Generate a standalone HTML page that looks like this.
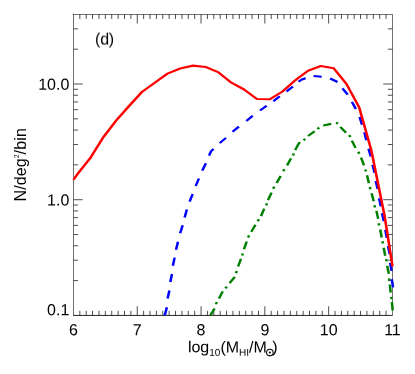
<!DOCTYPE html>
<html><head><meta charset="utf-8"><title>plot</title>
<style>
html,body{margin:0;padding:0;background:#fff;}
body{width:415px;height:374px;overflow:hidden;}
svg{display:block;}
text{font-family:"Liberation Sans",sans-serif;fill:#000;}
</style></head><body>
<svg width="415" height="374" viewBox="0 0 415 374">
<rect x="0" y="0" width="415" height="374" fill="#fff"/>
<defs><filter id="gs" x="0" y="0" width="415" height="374" filterUnits="userSpaceOnUse" color-interpolation-filters="sRGB"><feColorMatrix type="saturate" values="0"/></filter><clipPath id="cp"><rect x="70.45" y="11.38" width="325.0" height="307.02"/></clipPath></defs>
<path d="M79.83 315.40L79.83 310.80 M79.83 14.38L79.83 18.98 M86.21 315.40L86.21 310.80 M86.21 14.38L86.21 18.98 M92.59 315.40L92.59 310.80 M92.59 14.38L92.59 18.98 M98.97 315.40L98.97 310.80 M98.97 14.38L98.97 18.98 M105.35 315.40L105.35 310.80 M105.35 14.38L105.35 18.98 M111.73 315.40L111.73 310.80 M111.73 14.38L111.73 18.98 M118.11 315.40L118.11 310.80 M118.11 14.38L118.11 18.98 M124.49 315.40L124.49 310.80 M124.49 14.38L124.49 18.98 M130.87 315.40L130.87 310.80 M130.87 14.38L130.87 18.98 M137.25 315.40L137.25 306.20 M137.25 14.38L137.25 23.58 M143.63 315.40L143.63 310.80 M143.63 14.38L143.63 18.98 M150.01 315.40L150.01 310.80 M150.01 14.38L150.01 18.98 M156.39 315.40L156.39 310.80 M156.39 14.38L156.39 18.98 M162.77 315.40L162.77 310.80 M162.77 14.38L162.77 18.98 M169.15 315.40L169.15 310.80 M169.15 14.38L169.15 18.98 M175.53 315.40L175.53 310.80 M175.53 14.38L175.53 18.98 M181.91 315.40L181.91 310.80 M181.91 14.38L181.91 18.98 M188.29 315.40L188.29 310.80 M188.29 14.38L188.29 18.98 M194.67 315.40L194.67 310.80 M194.67 14.38L194.67 18.98 M201.05 315.40L201.05 306.20 M201.05 14.38L201.05 23.58 M207.43 315.40L207.43 310.80 M207.43 14.38L207.43 18.98 M213.81 315.40L213.81 310.80 M213.81 14.38L213.81 18.98 M220.19 315.40L220.19 310.80 M220.19 14.38L220.19 18.98 M226.57 315.40L226.57 310.80 M226.57 14.38L226.57 18.98 M232.95 315.40L232.95 310.80 M232.95 14.38L232.95 18.98 M239.33 315.40L239.33 310.80 M239.33 14.38L239.33 18.98 M245.71 315.40L245.71 310.80 M245.71 14.38L245.71 18.98 M252.09 315.40L252.09 310.80 M252.09 14.38L252.09 18.98 M258.47 315.40L258.47 310.80 M258.47 14.38L258.47 18.98 M264.85 315.40L264.85 306.20 M264.85 14.38L264.85 23.58 M271.23 315.40L271.23 310.80 M271.23 14.38L271.23 18.98 M277.61 315.40L277.61 310.80 M277.61 14.38L277.61 18.98 M283.99 315.40L283.99 310.80 M283.99 14.38L283.99 18.98 M290.37 315.40L290.37 310.80 M290.37 14.38L290.37 18.98 M296.75 315.40L296.75 310.80 M296.75 14.38L296.75 18.98 M303.13 315.40L303.13 310.80 M303.13 14.38L303.13 18.98 M309.51 315.40L309.51 310.80 M309.51 14.38L309.51 18.98 M315.89 315.40L315.89 310.80 M315.89 14.38L315.89 18.98 M322.27 315.40L322.27 310.80 M322.27 14.38L322.27 18.98 M328.65 315.40L328.65 306.20 M328.65 14.38L328.65 23.58 M335.03 315.40L335.03 310.80 M335.03 14.38L335.03 18.98 M341.41 315.40L341.41 310.80 M341.41 14.38L341.41 18.98 M347.79 315.40L347.79 310.80 M347.79 14.38L347.79 18.98 M354.17 315.40L354.17 310.80 M354.17 14.38L354.17 18.98 M360.55 315.40L360.55 310.80 M360.55 14.38L360.55 18.98 M366.93 315.40L366.93 310.80 M366.93 14.38L366.93 18.98 M373.31 315.40L373.31 310.80 M373.31 14.38L373.31 18.98 M379.69 315.40L379.69 310.80 M379.69 14.38L379.69 18.98 M386.07 315.40L386.07 310.80 M386.07 14.38L386.07 18.98 M73.45 280.58L78.05 280.58 M392.45 280.58L387.85 280.58 M73.45 260.20L78.05 260.20 M392.45 260.20L387.85 260.20 M73.45 245.75L78.05 245.75 M392.45 245.75L387.85 245.75 M73.45 234.54L78.05 234.54 M392.45 234.54L387.85 234.54 M73.45 225.38L78.05 225.38 M392.45 225.38L387.85 225.38 M73.45 217.63L78.05 217.63 M392.45 217.63L387.85 217.63 M73.45 210.93L78.05 210.93 M392.45 210.93L387.85 210.93 M73.45 205.01L78.05 205.01 M392.45 205.01L387.85 205.01 M73.45 199.71L82.65 199.71 M392.45 199.71L383.25 199.71 M73.45 164.89L78.05 164.89 M392.45 164.89L387.85 164.89 M73.45 144.52L78.05 144.52 M392.45 144.52L387.85 144.52 M73.45 130.07L78.05 130.07 M392.45 130.07L387.85 130.07 M73.45 118.85L78.05 118.85 M392.45 118.85L387.85 118.85 M73.45 109.69L78.05 109.69 M392.45 109.69L387.85 109.69 M73.45 101.95L78.05 101.95 M392.45 101.95L387.85 101.95 M73.45 95.24L78.05 95.24 M392.45 95.24L387.85 95.24 M73.45 89.32L78.05 89.32 M392.45 89.32L387.85 89.32 M73.45 84.03L82.65 84.03 M392.45 84.03L383.25 84.03 M73.45 49.20L78.05 49.20 M392.45 49.20L387.85 49.20 M73.45 28.83L78.05 28.83 M392.45 28.83L387.85 28.83" stroke="#000" stroke-width="0.7" fill="none"/>
<rect x="73.45" y="14.38" width="319.0" height="301.02" fill="none" stroke="#000" stroke-width="0.55"/>
<path d="M73.15 315.4H392.75" stroke="#000" stroke-width="0.6" fill="none"/>
<g clip-path="url(#cp)"><g transform="scale(1.2,1)" fill="none" stroke-width="2.15" stroke-linejoin="round">
<path d="M175.25 315.40 L178.83 308.40 M182.46 298.69 L185.62 291.41 M191.32 283.16 L195.68 276.84 M198.44 266.50 L200.81 258.80 M203.32 249.22 L205.59 241.48 M209.40 231.86 L212.93 224.84 M217.49 216.17 L220.18 208.63 M223.30 200.09 L226.29 192.71 M230.49 183.04 L233.92 175.96 M239.17 165.48 L242.50 158.32 M246.00 150.20 L249.08 143.20 L250.17 142.20 M256.68 136.03 L262.24 131.27 M269.32 125.52 L276.01 123.88 M283.54 126.95 L288.37 132.75 M293.22 140.53 L296.28 147.87 M300.89 157.68 L303.36 165.32 M305.88 175.25 L307.37 183.25 M309.66 193.34 L311.42 201.26 M313.68 210.90 L315.15 218.90 M316.84 229.47 L318.07 237.53 M319.75 247.72 L321.00 255.78 M322.59 265.75 L324.07 273.75 M324.84 284.52 L325.58 292.68 M326.60 302.17 L327.23 310.33 M179.94 304.25L180.73 302.15 M187.81 288.39L189.03 286.61 M196.70 273.19L197.30 271.01 M201.79 255.60L202.37 253.40 M206.75 237.54L207.58 235.46 M214.74 221.18L215.76 219.22 M221.78 205.45L222.55 203.35 M227.64 188.72L228.53 186.68 M236.01 171.29L236.99 169.31 M244.06 155.52L244.94 153.48 M252.91 140.31L254.42 138.89 M264.46 128.96L266.04 127.64 M280.02 122.70L281.81 123.50 M290.92 135.18L292.08 137.02 M298.53 151.80L299.47 153.80 M304.39 169.40L304.95 171.60 M308.16 187.09L308.67 189.31 M311.99 205.29L312.51 207.51 M315.57 223.27L315.93 225.53 M318.73 241.27L319.10 243.53 M321.82 259.07L322.18 261.33 M324.25 278.35L324.41 280.65 M326.05 296.86L326.29 299.14" stroke="#008000" stroke-width="2.1"/>
<path d="M137.29 315.40 L139.08 307.20 M139.64 298.54 L141.19 290.56 M141.91 282.01 L143.34 273.99 M144.08 265.71 L145.50 257.69 M146.67 249.68 L148.33 241.72 M150.13 233.15 L152.21 225.35 M153.83 217.43 L155.76 209.57 M158.00 201.60 L160.58 194.00 M163.08 186.02 L165.76 178.48 M168.56 170.57 L171.61 163.23 M174.17 155.60 L175.83 151.30 L177.92 148.80 M183.04 143.12 L188.29 137.88 M193.76 131.77 L199.08 126.63 M205.28 120.95 L210.63 115.85 M216.70 110.52 L222.22 105.68 M227.76 101.21 L233.16 96.19 M238.78 91.55 L244.13 86.45 M248.75 81.60 L251.58 79.50 L254.75 78.20 M261.30 76.00 L268.11 76.70 M275.11 78.52 L281.30 81.98 M285.37 88.42 L289.79 94.68 M293.27 101.86 L296.56 109.04 M299.66 116.98 L301.67 124.82 M303.63 132.32 L305.29 140.28 M307.12 148.70 L308.96 156.60 M310.43 164.88 L312.15 172.82 M313.12 181.06 L314.71 189.04 M315.92 198.34 L317.33 206.36 M318.34 213.31 L319.91 221.29 M321.12 229.81 L322.29 237.89 M323.37 246.13 L324.71 254.17 M325.13 262.86 L326.28 270.94 M326.46 279.20 L327.54 287.30" stroke="#0000ff" stroke-width="2.1"/>
<path d="M61.21 179.80 L65.00 173.40 L75.67 157.30 L86.33 136.80 L96.92 120.30 L107.58 106.00 L118.25 92.00 L128.92 82.70 L139.58 73.60 L150.17 68.50 L160.83 65.60 L171.50 67.00 L182.17 72.40 L192.83 82.70 L203.42 89.50 L214.08 99.00 L224.75 99.30 L235.42 91.50 L246.08 80.20 L256.67 70.70 L267.33 66.00 L278.00 68.20 L288.67 83.90 L299.33 107.40 L309.42 150.20 L320.58 216.50 L327.08 266.30" stroke="#ff0000" stroke-width="2.15"/>
</g></g>
<g font-size="16" filter="url(#gs)">
<text transform="translate(73.45,335.30) rotate(0.05)" text-anchor="middle" font-size="16">6</text>
<text transform="translate(137.25,335.30) rotate(0.05)" text-anchor="middle" font-size="16">7</text>
<text transform="translate(201.05,335.30) rotate(0.05)" text-anchor="middle" font-size="16">8</text>
<text transform="translate(264.85,335.30) rotate(0.05)" text-anchor="middle" font-size="16">9</text>
<text transform="translate(328.65,335.30) rotate(0.05)" text-anchor="middle" font-size="16">10</text>
<text transform="translate(392.45,335.30) rotate(0.05)" text-anchor="middle" font-size="16">11</text>
<text transform="translate(69.30,89.88) rotate(0.05)" text-anchor="end" font-size="16">10.0</text>
<text transform="translate(69.30,205.56) rotate(0.05)" text-anchor="end" font-size="16">1.0</text>
<text transform="translate(69.30,315.30) rotate(0.05)" text-anchor="end" font-size="16">0.1</text>
<text transform="translate(95.0,44.6) rotate(0.05)" letter-spacing="-0.2">(d)</text>
<text transform="translate(25.8,201.5) rotate(-90)" letter-spacing="0.14">N/deg<tspan font-size="6.4" dy="-7.1">2</tspan><tspan dy="7.1">/bin</tspan></text>
<text transform="translate(187.9,352.35) rotate(0.05)">log<tspan font-size="10" dy="3.3">10</tspan><tspan dy="-3.3">(M</tspan><tspan font-size="10" dy="3.3">HI</tspan><tspan dy="-3.3">/M</tspan></text>
<text transform="translate(272.20,352.35) rotate(0.05)" text-anchor="start" font-size="16">)</text>
</g>
<circle cx="269.85" cy="352.55" r="3.3" fill="none" stroke="#000" stroke-width="1.05"/>
<circle cx="269.85" cy="352.55" r="1.05" fill="#000"/>
</svg>
</body></html>
